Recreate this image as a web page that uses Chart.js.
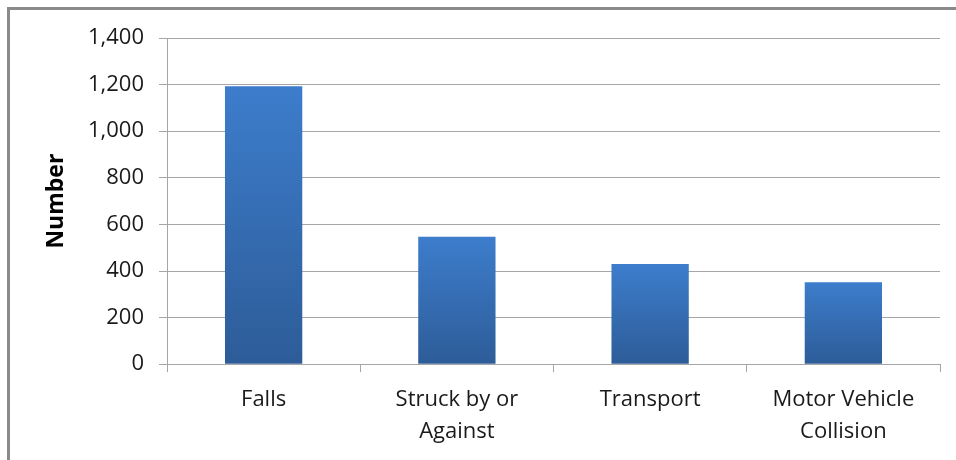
<!DOCTYPE html>
<html>
<head>
<meta charset="utf-8">
<script src="https://cdn.jsdelivr.net/npm/chart.js@4.4.0/dist/chart.umd.min.js"></script>
<style>
	html, body { margin: 0; padding: 0; background: #fff; }
	#wrap { position: relative; width: 956px; height: 460px; overflow: hidden; }
	#frame { position: absolute; left: 7px; top: 7px; right: -10px; bottom: -10px;
		border-left: 3px solid #8a8a8a; border-top: 3px solid #8a8a8a; }
	canvas { position: absolute; left: 0; top: 0; }
</style>
</head>
<body>
<div id="wrap">
	<div id="frame"></div>
	<canvas id="myChart" width="956" height="460"></canvas>
</div>
<script>
// injury causes
var categories = [['Falls'], ['Struck by or', 'Against'], ['Transport'], ['Motor Vehicle', 'Collision']];
var counts = [1193, 547, 430, 352];
var yTicks = [0, 200, 400, 600, 800, 1000, 1200, 1400];

var font = "'Open Sans', 'Noto Sans', sans-serif";
var gridColor = '#a6a6a6';

//vertical gradient per bar, light at top, dark at base
function barFill(context) {
	var chart = context.chart;
	var y = chart.scales.y;
	if (!y || !context.parsed) {
		return '#3a74bd';
	}
	var top = y.getPixelForValue(context.parsed.y);
	var base = y.getPixelForValue(0);
	if (!isFinite(top) || !isFinite(base) || top == base) {
		return '#3a74bd';
	}
	var g = chart.ctx.createLinearGradient(0, top, 0, base);
	g.addColorStop(0, '#3d7dcc');
	g.addColorStop(1, '#2d5c98');
	return g;
}

var ctx = document.getElementById('myChart').getContext('2d');
var chart = new Chart(ctx, {
	type: 'bar',
	data: {
		labels: categories,
		datasets: [{
			data: counts,
			backgroundColor: barFill,
			borderWidth: 0,
			barPercentage: 0.4,
			categoryPercentage: 1
		}]
	},
	options: {
		responsive: false,
		animation: false,
		layout: {
			padding: { left: 36, right: 16, top: 38, bottom: 0 }
		},
		plugins: {
			legend: { display: false },
			tooltip: { enabled: false }
		},
		scales: {
			x: {
				grid: {
					drawOnChartArea: false,
					drawTicks: true,
					tickLength: 8,
					color: gridColor
				},
				border: { color: gridColor },
				ticks: {
					color: '#1a1a1a',
					padding: 12,
					maxRotation: 0,
					autoSkip: false,
					font: { family: font, size: 22, lineHeight: 1.45 }
				}
			},
			y: {
				min: 0,
				max: 1400,
				afterBuildTicks: function(scale) {
					scale.ticks = yTicks.map(function(v) { return { value: v }; });
				},
				afterFit: function(scale) {
					scale.width = 167 - 36;
				},
				grid: {
					color: gridColor,
					tickLength: 8
				},
				border: { color: gridColor },
				ticks: {
					color: '#1a1a1a',
					padding: 15,
					font: { family: font, size: 22 },
					callback: function(v) { return v.toLocaleString('en-US'); }
				},
				title: {
					display: true,
					text: 'Number',
					color: '#000',
					padding: { top: 7, bottom: 0 },
					font: { family: font, size: 23, weight: 'bold', lineHeight: 1.2 }
				}
			}
		}
	}
});
// make sure the gradients get built once the scales have pixels
chart.update();
</script>
</body>
</html>
